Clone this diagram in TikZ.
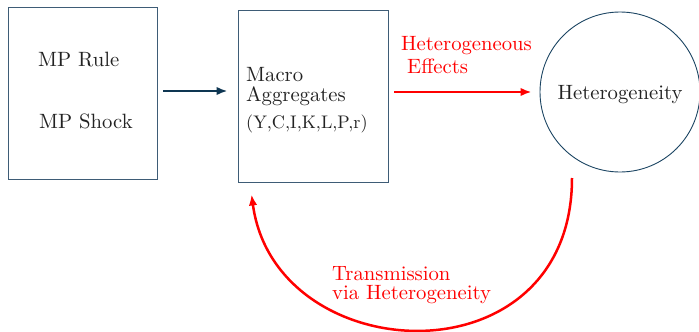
\documentclass[tikz,border=0pt]{standalone}
\usetikzlibrary{arrows.meta,calc}
\definecolor{boxline}{HTML}{3E5C76}
\definecolor{circline}{HTML}{1B4462}
\definecolor{navyarrow}{HTML}{0E3652}
\definecolor{txt}{HTML}{222222}
\newcommand{\bigtxt}[1]{\scalebox{2.07}{\fontsize{10}{12}\selectfont #1}}
\newcommand{\midtxt}[1]{\scalebox{1.82}{\fontsize{10}{12}\selectfont #1}}
\begin{document}
\begin{tikzpicture}[x=1pt,y=-1pt,
  boxnode/.style={draw=boxline,line width=0.9pt,rectangle,inner sep=0pt},
  circnode/.style={draw=circline,line width=0.9pt,circle,inner sep=0pt,minimum size=160pt},
  lbl/.style={inner sep=0pt,anchor=base west,text=txt},
  redlbl/.style={inner sep=0pt,anchor=base west,text=red},
  navyarr/.style={draw=navyarrow,line width=2.8pt,-{Latex[length=11pt,width=8.5pt]}},
  redarr/.style={draw=red,line width=2.5pt,-{Latex[length=11pt,width=8.5pt]}}]
\useasboundingbox (0,0) rectangle (699,332);
\node[boxnode,minimum width=149pt,minimum height=172pt] (b1) at (82.5,93) {};
\node[boxnode,minimum width=150pt,minimum height=172pt] (b2) at (313,96) {};
\node[circnode] (het) at (620,92) {};
\node[lbl] (rule) at (38,66) {\bigtxt{MP Rule}};
\node[lbl] (shock) at (39,128) {\bigtxt{MP Shock}};
\node[lbl] (macro) at (246,81) {\bigtxt{Macro}};
\node[lbl] (aggr) at (246,101) {\bigtxt{Aggregates}};
\node[lbl] (vars) at (246,128) {\midtxt{(Y,C,I,K,L,P,r)}};
\node[lbl,anchor=base] (hettxt) at (het.center |- 0,99) {\bigtxt{Heterogeneity}};
\node[redlbl] (heff1) at (401,50) {\bigtxt{Heterogeneous}};
\node[redlbl] (heff2) at (407,73) {\bigtxt{Effects}};
\node[redlbl] (trans1) at (332,280) {\bigtxt{Transmission}};
\node[redlbl] (trans2) at (332,299) {\bigtxt{via Heterogeneity}};
\coordinate (a1s) at ($(b1.east)+(6,-2)$);
\coordinate (a1e) at ($(b2.west)+(-10,-5)$);
\draw[navyarr] (a1s) -- (a1e);
\coordinate (a2s) at ($(b2.east)+(6,-4)$);
\coordinate (a2e) at ($(het.west)+(-8,0)$);
\draw[redarr] (a2s) -- (a2e);
\coordinate (cs) at ($(het.center)+(-48,86)$);
\coordinate (ce) at ($(b2.south west)+(14,12)$);
\draw[redarr] (cs) .. controls (572,385) and (275,370) .. (ce);
\end{tikzpicture}
\end{document}
